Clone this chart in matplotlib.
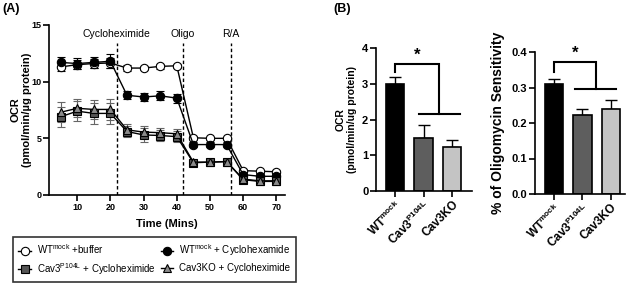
import matplotlib
matplotlib.use('Agg')
import matplotlib.pyplot as plt
from matplotlib.lines import Line2D

plt.rcParams['font.family'] = ['Liberation Sans', 'DejaVu Sans']
plt.rcParams['mathtext.fontset'] = 'custom'
plt.rcParams['mathtext.rm'] = 'Liberation Sans'
plt.rcParams['mathtext.bf'] = 'Liberation Sans:bold'
plt.rcParams['axes.linewidth'] = 1.2

# ---- panel A data ----
time = [5, 10, 15, 20, 25, 30, 35, 40, 45, 50, 55, 60, 65, 70]
wt_buffer = [11.3, 11.5, 11.6, 11.65, 11.2, 11.2, 11.35, 11.4, 5.05, 5.0, 5.0, 2.15, 2.1, 2.05]
wt_buffer_sd = [0.35, 0.4, 0.4, 0.4, 0.3, 0.15, 0.2, 0.2, 0.2, 0.15, 0.15, 0.15, 0.15, 0.15]
wt_cyclo = [11.7, 11.6, 11.7, 11.8, 8.8, 8.65, 8.75, 8.55, 4.45, 4.45, 4.45, 1.8, 1.65, 1.65]
wt_cyclo_sd = [0.45, 0.45, 0.45, 0.6, 0.35, 0.35, 0.4, 0.4, 0.2, 0.2, 0.2, 0.2, 0.2, 0.2]
p104l_cyclo = [6.9, 7.4, 7.2, 7.2, 5.6, 5.3, 5.25, 5.15, 2.85, 2.9, 2.95, 1.35, 1.2, 1.2]
p104l_cyclo_sd = [0.9, 0.9, 0.9, 0.9, 0.5, 0.6, 0.5, 0.5, 0.2, 0.2, 0.2, 0.2, 0.2, 0.2]
ko_cyclo = [7.3, 7.65, 7.55, 7.55, 5.75, 5.55, 5.5, 5.4, 2.9, 2.9, 2.95, 1.4, 1.25, 1.25]
ko_cyclo_sd = [0.9, 0.8, 0.8, 0.9, 0.5, 0.5, 0.4, 0.4, 0.2, 0.2, 0.2, 0.2, 0.2, 0.2]
injections = [21.9, 41.8, 56.4]
injection_labels = ['Cycloheximide', 'Oligo', 'R/A']

# ---- panel B data ----
groups = [r'WT$^{\mathbf{mock}}$', r'Cav3$^{\mathbf{P104L}}$', 'Cav3KO']
ocr = [3.0, 1.47, 1.23]
ocr_err = [0.18, 0.38, 0.2]
oligo_sens = [0.31, 0.222, 0.24]
oligo_sens_err = [0.015, 0.018, 0.025]
bar_colors = ['black', '#5e5e5e', '#c4c4c4']

W, H = 632, 285


def box(l, t, r, b):
    return [l / W, 1 - b / H, (r - l) / W, (b - t) / H]


def style(ax, size):
    for s in ['top', 'right']:
        ax.spines[s].set_visible(False)
    ax.tick_params(direction='out', length=4, width=1.2, labelsize=size, pad=1.5)
    for lab in ax.get_xticklabels() + ax.get_yticklabels():
        lab.set_fontweight('bold')


fig = plt.figure(figsize=(W / 100, H / 100), dpi=100)

# ---------------- panel A ----------------
axA = fig.add_axes(box(49, 25, 285, 195))
series = [
    (wt_buffer, wt_buffer_sd, 'o', 'white', 'black', r'WT$^{\mathrm{mock}}$ +buffer'),
    (wt_cyclo, wt_cyclo_sd, 'o', 'black', 'black', r'WT$^{\mathrm{mock}}$ + Cyclohexamide'),
    (p104l_cyclo, p104l_cyclo_sd, 's', '#555555', '#666666', r'Cav3$^{\mathrm{P104L}}$ + Cycloheximide'),
    (ko_cyclo, ko_cyclo_sd, '^', '#8a8a8a', '#666666', 'Cav3KO + Cycloheximide'),
]
handles = []
for vals, sd, mk, fc, ec, lab in series:
    axA.errorbar(time, vals, yerr=sd, fmt='none', ecolor=ec, elinewidth=0.8,
                 capsize=3, capthick=0.8, zorder=2)
    axA.plot(time, vals, color='black', lw=1, marker=mk, ms=6, mfc=fc,
             mec='black', mew=0.8, zorder=3)
    handles.append(Line2D([], [], color='black', lw=1, marker=mk, ms=6,
                          mfc=fc, mec='black', mew=0.8, label=lab))

for x, lab in zip(injections, injection_labels):
    axA.plot([x, x], [0, 13.4], ls='--', color='black', lw=1, dashes=(2.5, 1.8), zorder=1)
    axA.text(x, 13.8, lab, ha='center', va='bottom', fontsize=7.5)

axA.set_xlim(1.5, 72.6)
axA.set_ylim(0, 15)
axA.set_xticks([10, 20, 30, 40, 50, 60, 70])
axA.set_yticks([0, 5, 10, 15])
axA.set_xlabel('Time (Mins)', fontsize=8, fontweight='bold', labelpad=5)
axA.set_ylabel('OCR\n(pmol/min/\u00b5g protein)', fontsize=8, fontweight='bold')
axA.yaxis.set_label_coords(-0.07, 0.5)
style(axA, 6.5)

leg = fig.legend(handles=[handles[0], handles[2], handles[1], handles[3]],
                 ncol=2, loc='upper left', bbox_to_anchor=(13 / W, 1 - 237 / H),
                 fontsize=7, handlelength=1.3, handletextpad=0.6,
                 columnspacing=0.5, frameon=True, fancybox=False,
                 borderpad=0.55, labelspacing=0.5, borderaxespad=0)
leg.get_frame().set_edgecolor('black')
leg.get_frame().set_linewidth(1.2)

# ---------------- panel B ----------------
xpos = [0, 1, 2]


def bar_panel(rect, vals, errs, ylim, yticks, ylabel, lsize, labx, brk, fmt):
    ax = fig.add_axes(rect)
    ax.bar(xpos, vals, width=0.65, color=bar_colors, edgecolor='black', lw=1.2, zorder=2)
    ax.errorbar(xpos, vals, yerr=[[0, 0, 0], errs], fmt='none', ecolor='black',
                elinewidth=1, capsize=4, capthick=1, zorder=1)
    top, legl, low, mid, lowl, lowr, starx = brk
    ax.plot([0, 0, mid, mid], [legl, top, top, low], color='black', lw=1.5,
            solid_joinstyle='miter')
    ax.plot([lowl, lowr], [low, low], color='black', lw=1.5)
    ax.text(starx, top + (ylim[1] - ylim[0]) * 0.01, '*', ha='center',
            va='bottom', fontsize=12, fontweight='bold')
    ax.set_ylim(*ylim)
    ax.set_yticks(yticks)
    ax.set_yticklabels([fmt.format(v) for v in yticks])
    ax.set_xticks(xpos)
    ax.set_xticklabels(groups, rotation=45, ha='right', rotation_mode='anchor')
    ax.set_ylabel(ylabel, fontsize=lsize, fontweight='bold')
    ax.yaxis.set_label_coords(labx, 0.5)
    style(ax, 8)
    for lab in ax.get_xticklabels():
        lab.set_fontsize(8.5)
    return ax


axB1 = bar_panel(box(376, 48, 472, 191), ocr, ocr_err, (0, 4), [0, 1, 2, 3, 4],
                 'OCR\n(pmol/min/ug protein)', 7.5, -0.198,
                 (3.55, 3.34, 2.16, 1.54, 0.84, 2.28, 0.78), '{:.0f}')
axB1.set_xlim(-0.67, 2.7)

axB2 = bar_panel(box(535, 52, 625, 194), oligo_sens, oligo_sens_err, (0, 0.4),
                 [0.0, 0.1, 0.2, 0.3, 0.4], '% of Oligomycin Sensitivity', 10, -0.333,
                 (0.372, 0.345, 0.297, 1.47, 0.74, 2.2, 0.74), '{:.1f}')
axB2.set_xlim(-0.67, 2.5)

fig.text(2 / W, 1 - 9 / H, '(A)', fontsize=9, fontweight='bold', va='center')
fig.text(333 / W, 1 - 9 / H, '(B)', fontsize=9, fontweight='bold', va='center')

fig.savefig('out.png', dpi=100)
